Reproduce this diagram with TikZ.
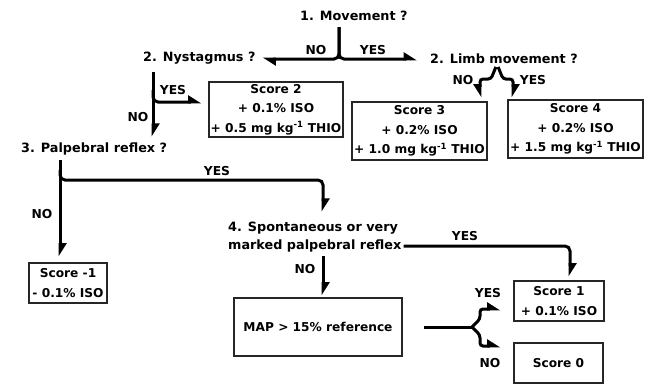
\documentclass[tikz,border=0pt]{standalone}
\usepackage{fontspec}
\setmainfont{DejaVu Sans}
\usetikzlibrary{arrows.meta,calc}
\begin{document}
\begin{tikzpicture}[x=1pt,y=-1pt,
  txt/.style={inner sep=0pt,font=\bfseries\fontsize{12.8}{19.5}\selectfont},
  lbl/.style={inner sep=0pt,font=\bfseries\fontsize{12.3}{14}\selectfont},
  box/.style={inner sep=0pt,font=\bfseries\fontsize{12.2}{19.5}\selectfont,draw=black!85,line width=1.2pt,align=center},
  conn/.style={line width=3pt,rounded corners=5pt},
  arr/.style={conn,-{Triangle[harpoon,length=11pt,width=13pt]}},
  arrs/.style={conn,-{Triangle[harpoon,swap,length=11pt,width=13pt]}}]
\useasboundingbox (0,0) rectangle (648,384);

% questions
\node[txt,anchor=west] (mov) at (300,16) {1. Movement ?};
\node[txt,anchor=west] (nys) at (143,58) {2. Nystagmus ?};
\node[txt,anchor=west] (limb) at (430,59) {2. Limb movement ?};
\node[txt,anchor=west] (pal) at (21,149) {3. Palpebral reflex ?};
\node[txt,anchor=west] (spa) at (228,228) {4. Spontaneous or very};
\node[txt,anchor=west] (spb) at (228,246) {marked palpebral reflex};

% boxes
\node[box,minimum width=134pt,minimum height=55pt] (s2) at (276,109.5) {Score 2\\+ 0.1\% ISO\\+ 0.5 mg kg\textsuperscript{-1} THIO};
\node[box,minimum width=135pt,minimum height=58pt] (s3) at (419.5,131) {Score 3\\+ 0.2\% ISO\\+ 1.0 mg kg\textsuperscript{-1} THIO};
\node[box,minimum width=135pt,minimum height=58pt] (s4) at (575.5,129) {Score 4\\+ 0.2\% ISO\\+ 1.5 mg kg\textsuperscript{-1} THIO};
\node[box,minimum width=78pt,minimum height=40pt] (sm1) at (68,283) {Score -1\\- 0.1\% ISO};
\node[box,minimum width=168pt,minimum height=58pt] (map) at (318,327) {MAP > 15\% reference};
\node[box,minimum width=90pt,minimum height=40pt] (s1) at (559,301) {Score 1\\+ 0.1\% ISO};
\node[box,minimum width=89pt,minimum height=40pt] (s0) at (558.5,363) {Score 0};

% helper coordinates
\coordinate (xA) at (339,0);
\coordinate (xB) at (497,0);
\coordinate (xN) at (153,0);
\coordinate (xC) at (60,0);
\coordinate (xD) at (323,0);
\coordinate (xE) at (570,0);
\coordinate (ny) at (153,90);
\coordinate (pa) at (60,170);
\coordinate (j4) at (472,327);

% 1. Movement
\draw[arr,shorten <=6pt,shorten >=7pt] (xA |- mov.south) -- (xA |- limb.west) -- (nys.east |- limb.west);
\draw[arr,shorten <=6pt,shorten >=13pt] (xA |- mov.south) -- (xA |- limb.west) -- (limb.west);
\node[lbl] (l1) at (316,50) {NO};
\node[lbl] (l2) at (373,50) {YES};

% 2. Limb movement
\draw[arrs,rounded corners=3pt,shorten <=3pt,shorten >=4pt] (xB |- limb.south) -- (491,79) -- (480,79) -- ($(s3.north)+(60.5,0)$);
\draw[arr,rounded corners=3pt,shorten <=3pt,shorten >=2pt] (xB |- limb.south) -- (503,79) -- (513,79) -- ($(s4.north)+(-62.5,0)$);
\node[lbl] (l3) at (463,80) {NO};
\node[lbl] (l4) at (533,80) {YES};

% 2. Nystagmus
\draw[arr,shorten <=8pt,shorten >=6pt] (xN |- nys.south) -- (xN |- pal.north);
\draw[arr,shorten >=7pt] (ny) |- ($(s2.west)+(0,-7.5)$);
\node[lbl] (l5) at (173,90) {YES};
\node[lbl] (l6) at (138,117) {NO};

% 3. Palpebral reflex
\draw[arr,shorten <=5pt,shorten >=6pt] (xC |- pal.south) -- (xC |- sm1.north);
\draw[arr,shorten >=10pt] (pa) -- (60,180) -- (323,180) -- (xD |- spa.north);
\node[lbl] (l7) at (217,171) {YES};
\node[lbl] (l8) at (42,214) {NO};

% 4. Spontaneous
\draw[arr,shorten <=4pt,shorten >=2pt] (xD |- spb.south) -- (xD |- map.north);
\draw[arr,shorten >=4pt] ($(spb.east)+(2,0)$) -- (xE |- spb.east) -- (xE |- s1.north);
\node[lbl] (l9) at (305,269) {NO};
\node[lbl] (l10) at (465,236) {YES};

% MAP
\draw[conn,shorten <=21pt] (map.east) -- (j4);
\draw[arr,rounded corners=3pt] (j4) -- (480,319) -- (480,309) -- ($(s1.west)+(-13,8)$);
\draw[arr,rounded corners=3pt] (j4) -- (480,335) -- (480,346) -- ($(s0.west)+(-13,-17)$);
\node[lbl] (l11) at (488,293) {YES};
\node[lbl] (l12) at (490,363) {NO};
\end{tikzpicture}
\end{document}
